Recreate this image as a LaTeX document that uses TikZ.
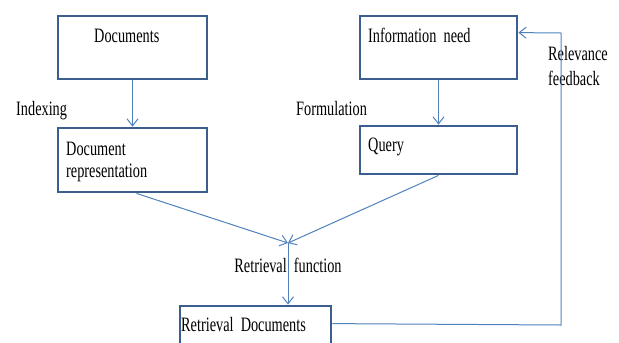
\documentclass[tikz,border=0pt]{standalone}
\usepackage{fontspec}
\setmainfont{Liberation Serif}[FakeStretch=0.7]
\usetikzlibrary{arrows.meta}
\usetikzlibrary{calc}
\definecolor{boxblue}{RGB}{58,95,142}
\definecolor{linkblue}{RGB}{79,129,189}

\tikzset{
  box/.style={draw=boxblue, line width=2.8bp, inner sep=0pt},
  txt/.style={font=\fontsize{20.5}{22}\selectfont, inner sep=0pt, anchor=base west},
  link/.style={draw=linkblue, line width=1bp, -{Straight Barb[length=7bp,width=11bp]}}
}

\begin{document}
\begin{tikzpicture}[x=1bp, y=-1bp]
    \useasboundingbox (0,0) rectangle (619,342);

    \node[box, minimum width=149bp, minimum height=63bp] (docs) at (132.5,47.5) {};
    \node[box, minimum width=149bp, minimum height=64bp] (docrep) at (132.5,160) {};
    \node[box, minimum width=157bp, minimum height=63bp] (info) at (438.5,47.5) {};
    \node[box, minimum width=157bp, minimum height=48bp] (query) at (438.5,150) {};
    \node[box, minimum width=151bp, minimum height=64bp] (retr) at (255.5,338) {};

    \node[txt] (docstxt) at (94,42) {Documents};
    \node[txt] (docreptxt) at (66,155) {Document};
    \node[txt] (docreptxtb) at (66,177) {representation};
    \node[txt] (infotxt) at (368,42) {Information~ need};
    \node[txt] (querytxt) at (368,151) {Query};
    \node[txt] (retrtxt) at (181,331) {Retrieval~ Documents};

    \node[txt] (indexing) at (16,115) {Indexing};
    \node[txt] (formul) at (296,115) {Formulation};
    \node[txt] (relev) at (548,60) {Relevance};
    \node[txt] (feedb) at (548,85) {feedback};
    \node[txt, anchor=base] (retrfun) at (288,272) {Retrieval~ function};

    \coordinate (merge) at (288,243);
    \coordinate (fbdown) at (561,325);
    \coordinate (fbup) at (561,33);

    \draw[link] (docs.south) -- (docrep.north);
    \draw[link] (info.south) -- (query.north);
    \draw[link] ($(docrep.south)+(4,0)$) -- (merge);
    \draw[link] (query.south) -- (merge);
    \draw[link] (merge) -- (merge |- retr.north);
    \draw[link] ($(retr.north east)+(0,19)$) -- (fbdown) -- (fbup) -- ($(info.north east)+(0,18)$);
\end{tikzpicture}
\end{document}
